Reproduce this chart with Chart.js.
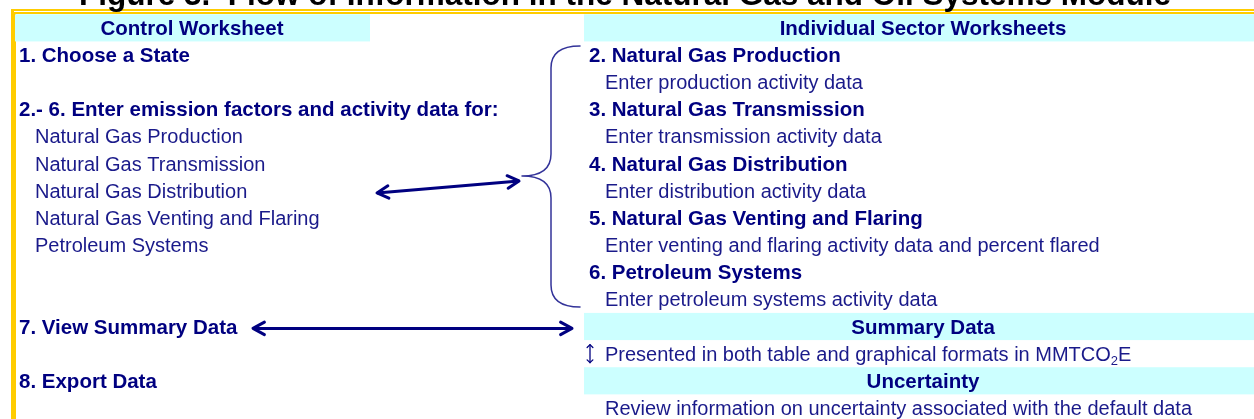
<!DOCTYPE html>
<html>
<head>
<meta charset="utf-8">
<script src="https://cdn.jsdelivr.net/npm/chart.js@4.4.1/dist/chart.umd.min.js"></script>
<style>
  html, body { margin: 0; padding: 0; background: #fff; }
  #wrap { width: 1254px; height: 419px; position: relative; }
</style>
</head>
<body>
<div id="wrap"><canvas id="flowChart"></canvas></div>
<script>
// ========== DIAGRAM CONTENT ==========
const figureTitle = 'Figure 3.  Flow of Information in the Natural Gas and Oil Systems Module';
const headerTitles = ['Control Worksheet', 'Individual Sector Worksheets'];

const controlSteps = ['1. Choose a State', '2.- 6. Enter emission factors and activity data for:', '7. View Summary Data', '8. Export Data'];
const controlStepRows = [0, 2, 10, 12];

const controlSectors = ['Natural Gas Production', 'Natural Gas Transmission', 'Natural Gas Distribution', 'Natural Gas Venting and Flaring', 'Petroleum Systems'];
const controlSectorRows = [3, 4, 5, 6, 7];

const sectorSheets = ['2. Natural Gas Production', '3. Natural Gas Transmission', '4. Natural Gas Distribution', '5. Natural Gas Venting and Flaring', '6. Petroleum Systems'];
const sectorSheetRows = [0, 2, 4, 6, 8];

const sectorNotes = ['Enter production activity data', 'Enter transmission activity data', 'Enter distribution activity data', 'Enter venting and flaring activity data and percent flared', 'Enter petroleum systems activity data'];
const sectorNoteRows = [1, 3, 5, 7, 9];

const resultBands = ['Summary Data', 'Uncertainty'];
const resultBandRows = [10, 12];

const resultNotes = ['Presented in both table and graphical formats in MMTCO₂E', 'Review information on uncertainty associated with the default data'];
const resultNoteRows = [11, 13];

// ========== LAYOUT (x in page units, y in rows) ==========
const ROW_MIN = -2.026;
const ROW_MAX = 13.407;
const HEADER_ROW = -1;
const COL = {
  leftStep: 19, leftSector: 35, rightStep: 589, rightNote: 605,
  leftBox: [15, 370], rightBox: [584, 1254], rightCenter: 923, leftCenter: 192
};
const sectorArrow = [{ x: 377, y: 5.08 }, { x: 519, y: 4.64 }];
const summaryArrow = [{ x: 253, y: 10.07 }, { x: 572, y: 10.07 }];
const brace = { xEnd: 580, xSpine: 551, xTip: 522, top: -0.33, tip: 4.46, bottom: 9.28, radius: 22 };

const NAVY = '#000080';
const NAVY_LIGHT = '#1a1a8a';
const CYAN = '#ccffff';
const GOLD = '#ffcc00';
const FONT = '"Liberation Sans", Arial, sans-serif';
const TEXT_NUDGE = 1.5; // glyphs sit a touch below the row centre

function textSet(texts, rows, xPos, opts) {
  return {
    type: 'scatter',
    data: rows.map(r => ({ x: xPos, y: r })),
    texts: texts,
    weight: opts.weight,
    color: opts.color,
    align: opts.align || 'left',
    pointRadius: 0,
    pointHoverRadius: 0
  };
}

function arrowSet(points) {
  return {
    type: 'line',
    data: points,
    arrows: true,
    showLine: true,
    borderColor: NAVY,
    borderWidth: 3,
    pointRadius: 0,
    fill: false,
    tension: 0
  };
}

// ========== DRAWING HELPERS ==========
function drawLabel(ctx, str, x, y, align) {
  const parts = str.split('₂');
  if (parts.length === 1) {
    ctx.textAlign = align;
    ctx.fillText(str, x, y);
    return;
  }
  const baseFont = ctx.font;
  ctx.textAlign = 'left';
  let cx = x;
  parts.forEach((p, i) => {
    ctx.font = baseFont;
    ctx.fillText(p, cx, y);
    cx += ctx.measureText(p).width;
    if (i < parts.length - 1) {
      ctx.font = '13px ' + FONT;
      ctx.fillText('2', cx, y + 6);
      cx += ctx.measureText('2').width;
    }
  });
  ctx.font = baseFont;
}

function arrowHead(ctx, tip, from, len, spread) {
  const ang = Math.atan2(tip.y - from.y, tip.x - from.x);
  ctx.beginPath();
  ctx.moveTo(tip.x - len * Math.cos(ang - spread), tip.y - len * Math.sin(ang - spread));
  ctx.lineTo(tip.x, tip.y);
  ctx.lineTo(tip.x - len * Math.cos(ang + spread), tip.y - len * Math.sin(ang + spread));
  ctx.stroke();
}

const diagramPlugin = {
  id: 'diagram',
  beforeDatasetsDraw(chart) {
    const { ctx, scales: { x, y } } = chart;
    ctx.save();
    // gold frame: double rule on top, solid bar on the left
    ctx.fillStyle = GOLD;
    ctx.fillRect(11, 9, 1254 - 11, 5);
    ctx.fillRect(11, 9, 5, 419 - 9);
    ctx.fillStyle = '#ffffff';
    ctx.fillRect(14, 11, 1254 - 14, 1);

    // cyan bands
    ctx.fillStyle = CYAN;
    const band = (x0, x1, row) => {
      const top = y.getPixelForValue(row - 0.5);
      const bot = y.getPixelForValue(row + 0.5);
      ctx.fillRect(x.getPixelForValue(x0), top, x.getPixelForValue(x1) - x.getPixelForValue(x0), bot - top);
    };
    band(COL.leftBox[0], COL.leftBox[1], HEADER_ROW);
    band(COL.rightBox[0], COL.rightBox[1], HEADER_ROW);
    resultBandRows.forEach(r => band(COL.rightBox[0], COL.rightBox[1], r));

    // title (top part is cut off by the page edge)
    ctx.fillStyle = '#000000';
    ctx.font = 'bold 31.5px ' + FONT;
    ctx.textAlign = 'center';
    ctx.textBaseline = 'alphabetic';
    ctx.fillText(figureTitle, 625, 5);
    ctx.restore();
  },
  afterDatasetsDraw(chart) {
    const { ctx, scales: { x, y } } = chart;
    ctx.save();
    ctx.textBaseline = 'middle';
    chart.data.datasets.forEach((ds, di) => {
      const meta = chart.getDatasetMeta(di);
      if (ds.texts) {
        ctx.font = (ds.weight === 'bold' ? 'bold 20.5px ' : '20px ') + FONT;
        ctx.fillStyle = ds.color;
        ds.texts.forEach((t, i) => {
          const pt = meta.data[i];
          drawLabel(ctx, t, pt.x, pt.y + TEXT_NUDGE, ds.align);
        });
      }
      if (ds.arrows) {
        const a = meta.data[0], b = meta.data[1];
        ctx.strokeStyle = ds.borderColor;
        ctx.lineWidth = 3;
        ctx.lineCap = 'round';
        ctx.lineJoin = 'round';
        arrowHead(ctx, b, a, 13, 0.5);
        arrowHead(ctx, a, b, 13, 0.5);
      }
    });

    // curly brace grouping the sector worksheets
    const bx = v => x.getPixelForValue(v);
    const by = v => y.getPixelForValue(v);
    const r = brace.radius;
    const xe = bx(brace.xEnd), xs = bx(brace.xSpine), xt = bx(brace.xTip);
    const yt = by(brace.top), yc = by(brace.tip), yb = by(brace.bottom);
    ctx.strokeStyle = '#333399';
    ctx.lineWidth = 1.5;
    ctx.beginPath();
    ctx.moveTo(xe, yt);
    ctx.quadraticCurveTo(xs, yt, xs, yt + r);
    ctx.lineTo(xs, yc - r);
    ctx.quadraticCurveTo(xs, yc, xt, yc);
    ctx.quadraticCurveTo(xs, yc, xs, yc + r);
    ctx.lineTo(xs, yb - r);
    ctx.quadraticCurveTo(xs, yb, xe, yb);
    ctx.stroke();

    // small up/down arrow before the summary note
    const ix = bx(590), iy = by(resultNoteRows[0]);
    ctx.strokeStyle = NAVY;
    ctx.lineWidth = 1.3;
    ctx.beginPath();
    ctx.moveTo(ix, iy - 9);
    ctx.lineTo(ix, iy + 9);
    ctx.stroke();
    arrowHead(ctx, { x: ix, y: iy - 9 }, { x: ix, y: iy }, 4, 0.8);
    arrowHead(ctx, { x: ix, y: iy + 9 }, { x: ix, y: iy }, 4, 0.8);
    ctx.restore();
  }
};

// ========== CHART ==========
const flowCtx = document.getElementById('flowChart');
const flowChart = new Chart(flowCtx, {
  type: 'scatter',
  data: {
    datasets: [
      textSet([headerTitles[0]], [HEADER_ROW], COL.leftCenter, { weight: 'bold', color: NAVY, align: 'center' }),
      textSet([headerTitles[1]], [HEADER_ROW], COL.rightCenter, { weight: 'bold', color: NAVY, align: 'center' }),
      textSet(controlSteps, controlStepRows, COL.leftStep, { weight: 'bold', color: NAVY }),
      textSet(controlSectors, controlSectorRows, COL.leftSector, { weight: 'normal', color: NAVY_LIGHT }),
      textSet(sectorSheets, sectorSheetRows, COL.rightStep, { weight: 'bold', color: NAVY }),
      textSet(sectorNotes, sectorNoteRows, COL.rightNote, { weight: 'normal', color: NAVY_LIGHT }),
      textSet(resultBands, resultBandRows, COL.rightCenter, { weight: 'bold', color: NAVY, align: 'center' }),
      textSet(resultNotes, resultNoteRows, COL.rightNote, { weight: 'normal', color: NAVY_LIGHT }),
      arrowSet(sectorArrow),
      arrowSet(summaryArrow)
    ]
  },
  options: {
    responsive: true,
    maintainAspectRatio: false,
    animation: false,
    layout: { padding: 0 },
    events: [],
    plugins: {
      legend: { display: false },
      tooltip: { enabled: false }
    },
    scales: {
      x: { type: 'linear', min: 0, max: 1254, display: false },
      y: { type: 'linear', min: ROW_MIN, max: ROW_MAX, reverse: true, display: false }
    }
  },
  plugins: [diagramPlugin]
});
</script>
</body>
</html>
